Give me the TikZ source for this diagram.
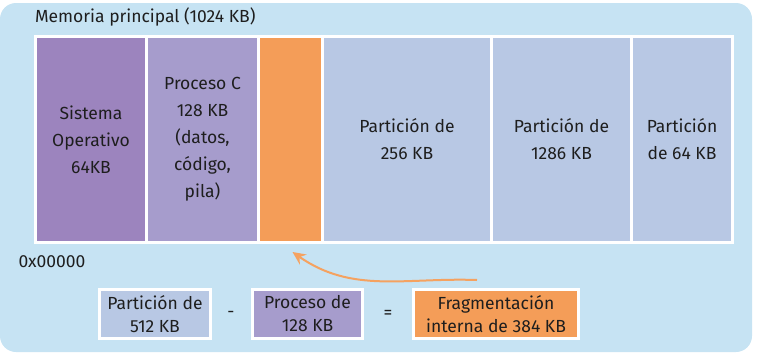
\documentclass[tikz,border=0pt]{standalone}
\usepackage{fontspec}
\setmainfont{Fira Sans}
\usepackage{tikz}
\usetikzlibrary{arrows.meta,positioning}

\definecolor{fondo}{HTML}{C6E3F3}
\definecolor{sisop}{HTML}{9C84BE}
\definecolor{proc}{HTML}{A69CCC}
\definecolor{naranja}{HTML}{F49D58}
\definecolor{part}{HTML}{B8C8E4}
\definecolor{texto}{HTML}{1E1E1E}

\begin{document}
\begin{tikzpicture}[x=1pt, y=-1pt, >={Stealth[length=13pt,width=12pt]},
    every node/.style={text=texto, font=\fontsize{17.5}{27}\selectfont},
    block/.style={minimum height=203pt, inner sep=0pt, outer sep=0pt, align=center},
    resumen/.style={draw=white, line width=3pt, minimum height=49pt, inner sep=0pt,
      align=center, font=\fontsize{17.5}{23}\selectfont},
    flecha/.style={->, draw=naranja!95!white, line width=2pt}]
  \useasboundingbox (0,0) rectangle (758,362);
  \fill[fondo, rounded corners=16pt] (0,3) rectangle (752,352);
  \fill[white] (34,35) rectangle (734,244);
  \node[anchor=west] (titulo) at (31.5,17) {Memoria principal (1024 KB)};

  % bloques de memoria
  \node[block, fill=sisop, minimum width=108pt] (os) at (91,139.5) {Sistema\\Operativo\\64KB};
  \node[block, fill=proc, minimum width=109pt, right=3pt of os] (procC) {Proceso C\\128 KB\\(datos,\\código,\\pila)};
  \node[block, fill=naranja, minimum width=61pt, right=3pt of procC] (orng) {};
  \node[block, fill=part, minimum width=166pt, right=3pt of orng] (p256) {Partición de\\256 KB};
  \node[block, fill=part, minimum width=137pt, right=3pt of p256] (p1286) {Partición de\\1286 KB};
  \node[block, fill=part, minimum width=98pt, right=3pt of p1286] (p64) {Partición\\de 64 KB};
  \node (dir) at (52,262) {0x00000};

  % resta
  \node[resumen, fill=part, minimum width=111pt] (p512) at (155,314) {Partición de\\512 KB};
  \node (menos) at (231,314) {-};
  \node[resumen, fill=proc, minimum width=110pt] (p128) at (307.5,314) {Proceso de\\128 KB};
  \node (igual) at (388,314) {=};
  \node[resumen, fill=naranja, minimum width=165pt] (frag) at (496,314) {Fragmentación\\interna de 384 KB};

  \draw[flecha] ([xshift=-19pt,yshift=8pt]frag.north) to[out=178,in=-35] ([xshift=2pt,yshift=-11pt]orng.south);
\end{tikzpicture}
\end{document}
